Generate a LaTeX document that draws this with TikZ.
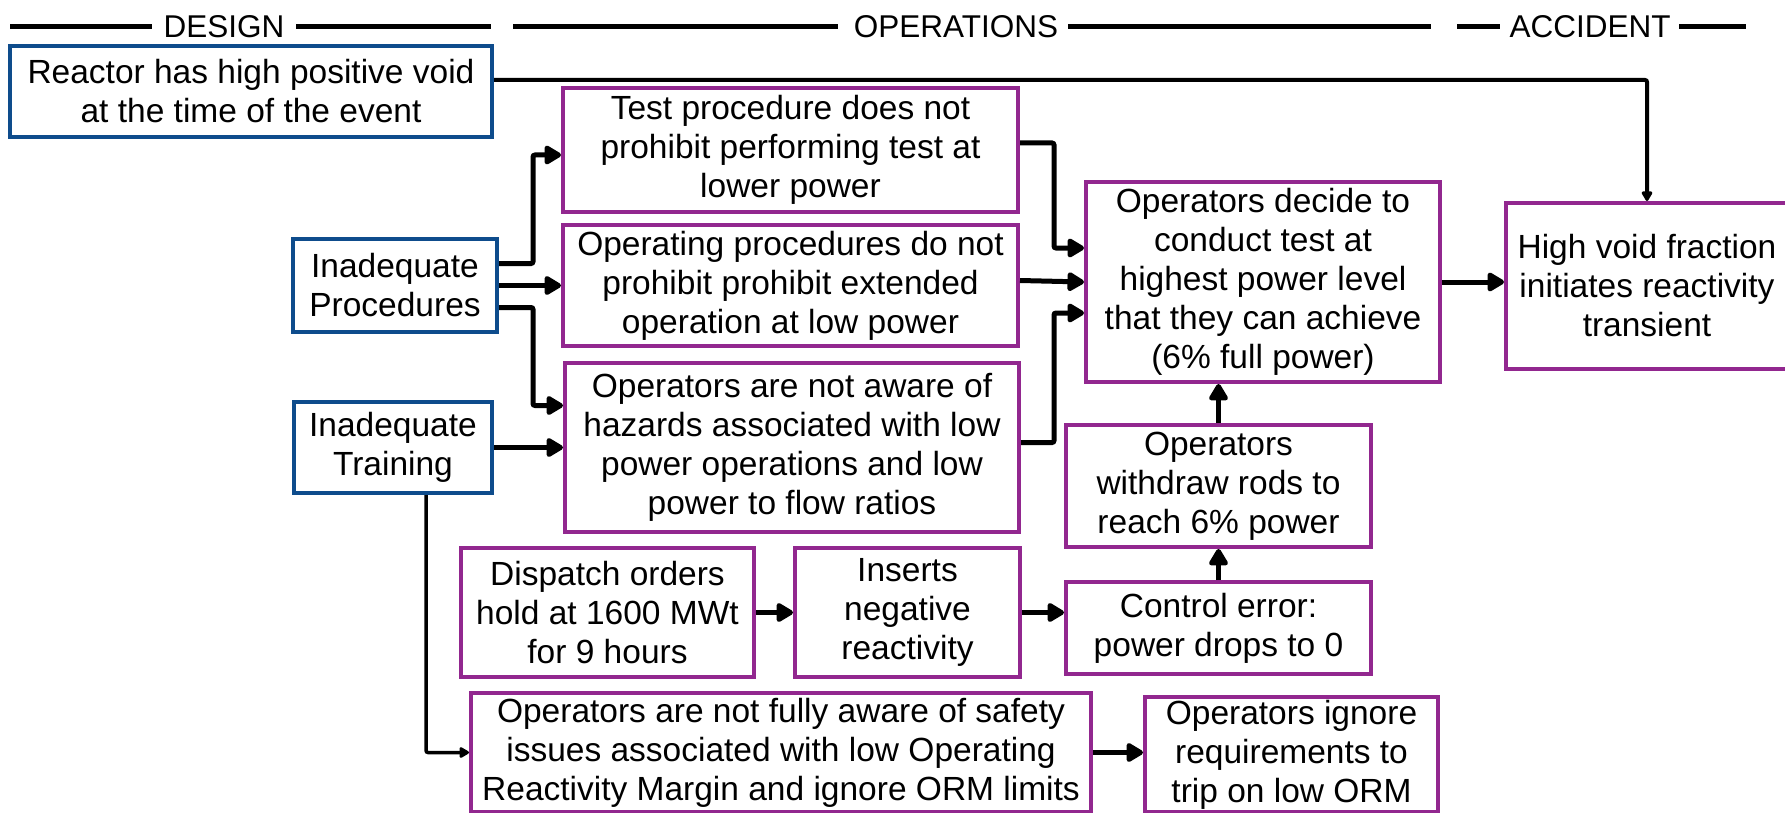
\documentclass[tikz,border=0pt]{standalone}
\usepackage{fontspec}
\setmainfont{Liberation Sans}
\usetikzlibrary{arrows.meta,calc}
\definecolor{boxblue}{RGB}{14,76,140}
\definecolor{boxpurple}{RGB}{146,39,143}
\tikzset{
  basebox/.style={line width=4pt, fill=white, align=center, inner sep=0pt},
  bbox/.style={basebox, draw=boxblue},
  pbox/.style={basebox, draw=boxpurple},
  hdr/.style={font=\fontsize{31.5}{36}\selectfont, inner sep=0pt},
  hline/.style={line width=5pt},
  conn/.style={line width=5pt, rounded corners=2pt, -{Triangle[length=19pt,width=21pt,round]}},
  thinconn/.style={line width=4pt, rounded corners=2pt, -{Triangle[length=11pt,width=12pt,round]}},
}
\begin{document}
\begin{tikzpicture}[x=1pt,y=-1pt,font=\fontsize{33.5}{39}\selectfont]
\useasboundingbox (0,0) rectangle (1785,813);
% header
\node[hdr] (hdesign) at (224,27) {DESIGN};
\node[hdr] (hops) at (956,27) {OPERATIONS};
\node[hdr] (hacc) at (1590,27) {ACCIDENT};
\draw[hline] (10,27) -- (152,27);
\draw[hline] (296,27) -- (491,27);
\draw[hline] (513,27) -- (838,27);
\draw[hline] (1068,27) -- (1431,27);
\draw[hline] (1457,27) -- (1500,27);
\draw[hline] (1679,27) -- (1746,27);
% boxes
\node[bbox, minimum width=482pt, minimum height=91pt] (reactor) at (251,91.5) {Reactor has high positive void\\at the time of the event};
\node[pbox, minimum width=455pt, minimum height=124pt] (test) at (790.5,150) {Test procedure does not\\prohibit performing test at\\lower power};
\node[pbox, minimum width=455pt, minimum height=121pt] (oper) at (790.5,285.5) {Operating procedures do not\\prohibit prohibit extended\\operation at low power};
\node[pbox, minimum width=454pt, minimum height=169pt] (aware) at (792,447.5) {Operators are not aware of\\hazards associated with low\\power operations and low\\power to flow ratios};
\node[bbox, minimum width=204pt, minimum height=93pt] (IP) at (395,285.5) {Inadequate\\Procedures};
\node[bbox, minimum width=198pt, minimum height=91pt] (IT) at (393,447.5) {Inadequate\\Training};
\node[pbox, minimum width=354pt, minimum height=200pt] (decide) at (1263,282) {Operators decide to\\conduct test at\\highest power level\\that they can achieve\\(6\% full power)};
\node[pbox, minimum width=282pt, minimum height=166pt] (highvoid) at (1647,286) {High void fraction\\initiates reactivity\\transient};
\node[pbox, minimum width=305pt, minimum height=122pt] (withdraw) at (1218.5,486) {Operators\\withdraw rods to\\reach 6\% power};
\node[pbox, minimum width=293pt, minimum height=129pt] (dispatch) at (607.5,612.5) {Dispatch orders\\hold at 1600 MWt\\for 9 hours};
\node[pbox, minimum width=225pt, minimum height=129pt] (inserts) at (907.5,612.5) {Inserts\\negative\\reactivity};
\node[pbox, minimum width=305pt, minimum height=92pt] (control) at (1218.5,628) {Control error:\\power drops to 0};
\node[pbox, minimum width=620pt, minimum height=119pt] (fully) at (781,752.5) {Operators are not fully aware of safety\\issues associated with low Operating\\Reactivity Margin and ignore ORM limits};
\node[pbox, minimum width=293pt, minimum height=115pt] (ignore) at (1291.5,754.5) {Operators ignore\\requirements to\\trip on low ORM};
% connectors
\coordinate (ry) at (0,80);
\draw[thinconn] (reactor.east |- ry) -| (highvoid.north);
\draw[conn] ($(IP.east)+(0,-22)$) -- ++(34,0) |- ($(test.west)+(0,5)$);
\draw[conn] (IP.east) -- (oper.west);
\draw[conn] ($(IP.east)+(0,22)$) -- ++(34,0) |- ($(aware.west)+(0,-42)$);
\draw[conn] (IT.east) -- (aware.west);
\draw[thinconn, line width=3.5pt] ($(IT.south)+(33,0)$) |- (fully.west);
\draw[conn] ($(test.east)+(0,-7)$) -- ++(34,0) |- ($(decide.west)+(0,-34)$);
\draw[conn] ($(oper.east)+(0,-5)$) -- (decide.west);
\draw[conn] ($(aware.east)+(0,-5)$) -- ++(33,0) |- ($(decide.west)+(0,31)$);
\draw[conn] (decide.east) -- (decide.east -| highvoid.west);
\draw[conn] (withdraw.north) -- (withdraw.north |- decide.south);
\draw[conn] (control.north) -- (withdraw.south);
\draw[conn] (dispatch.east) -- (inserts.west);
\draw[conn] (inserts.east) -- (inserts.east -| control.west);
\draw[conn] (fully.east) -- (fully.east -| ignore.west);
\end{tikzpicture}
\end{document}
